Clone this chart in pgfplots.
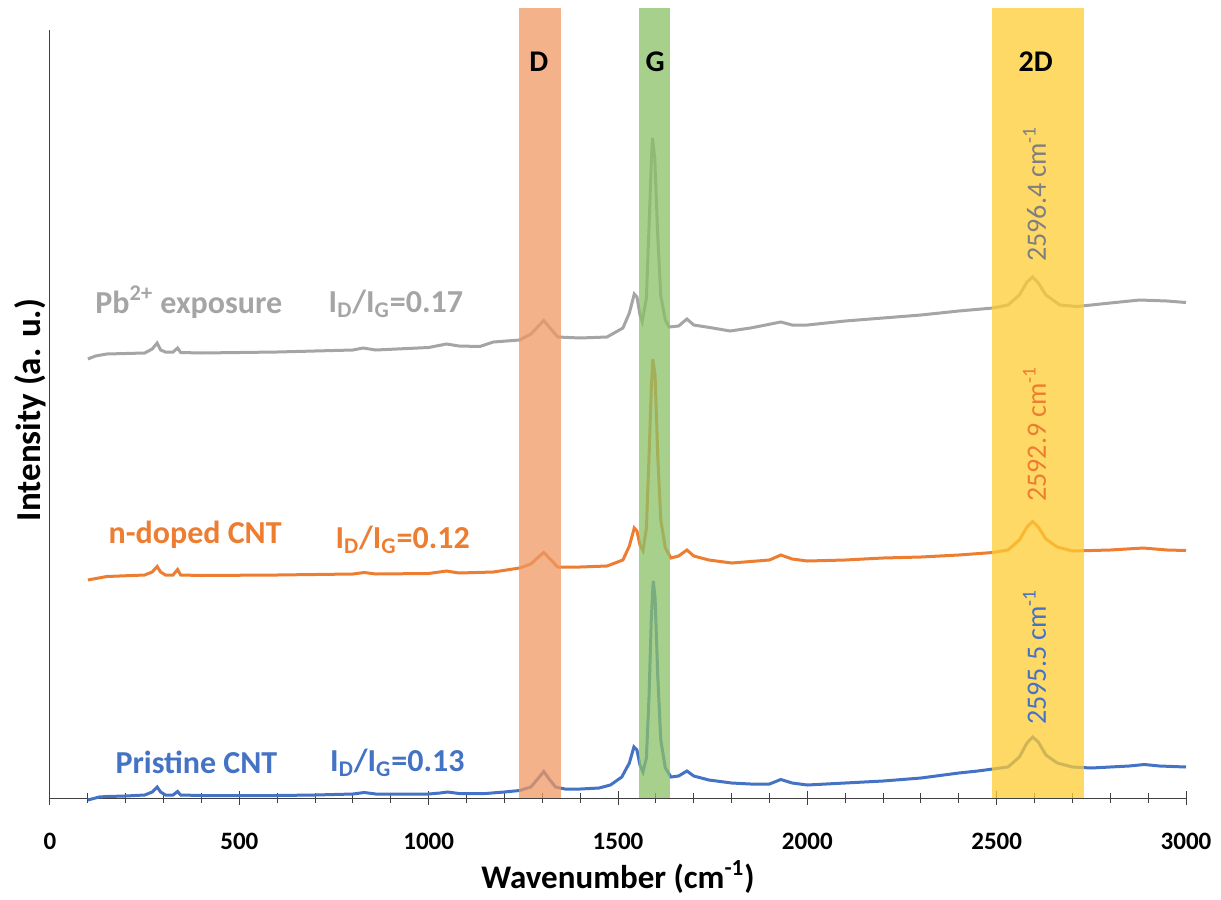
\documentclass[border=0pt]{standalone}
\usepackage{fontspec}
\setmainfont{Carlito}
\usepackage{pgfplots}
\pgfplotsset{compat=1.18}
\definecolor{cblue}{HTML}{4472C4}
\definecolor{corange}{HTML}{ED7D31}
\definecolor{cgray}{HTML}{A5A5A5}
\definecolor{cdgray}{HTML}{7F7F7F}
\definecolor{bandD}{RGB}{239,152,99}
\definecolor{bandG}{RGB}{139,192,103}
\definecolor{band2D}{RGB}{255,204,51}
\definecolor{axcol}{HTML}{404040}
\begin{document}
\begin{tikzpicture}
\begin{axis}[
  width=568pt, height=395pt, scale only axis,
  xmin=0, xmax=3000, ymin=0, ymax=790,
  clip=false,
  axis x line=bottom, axis y line=none,
  axis line style={-, axcol, line width=0.5pt},
  xtick={0,500,...,3000},
  minor xtick={100,200,300,400,600,700,800,900,1100,1200,1300,1400,1600,1700,1800,1900,2100,2200,2300,2400,2600,2700,2800,2900},
  tick align=center,
  major tick length=7pt, minor tick length=5pt,
  every tick/.style={axcol, line width=0.5pt},
  /pgf/number format/assume math mode=true,
  /pgf/number format/set thousands separator={},
  xticklabel style={font=\bfseries\fontsize{12.5}{15}\selectfont, anchor=center, yshift=-18pt},
  xlabel={\textbf{Wavenumber (cm\textsuperscript{-1})}},
  xlabel style={font=\fontsize{16.5}{19}\selectfont, at={(rel axis cs:0.5,0)}, anchor=center, yshift=-39.5pt},
]
% Pristine CNT (blue)
\addplot[cblue, line width=1.5pt] coordinates {
(100,-2)(130,1)(150,1.5)(200,2)(250,3)(270,6)(283,11)(292,6)(305,3)(325,3)(337,6.5)(345,3)
(400,2.5)(500,2.5)(600,2.5)(700,3)(800,4)(830,5.5)(860,4)(950,4)(1000,4)(1030,5)(1050,6)(1080,4.5)
(1150,4.5)(1200,6)(1240,7.5)(1270,11)(1290,20)(1304,26.5)(1318,19)(1335,11)(1360,9)(1400,9)(1450,10)
(1480,13)(1510,21)(1530,35)(1542,51)(1550,48)(1558,33)(1566,26)(1575,40)(1582,102)(1588,180)(1593,217)
(1598,200)(1605,122)(1613,58)(1625,30)(1640,21)(1660,22)(1682,27)(1700,22)(1740,18)(1800,15)(1850,14)
(1900,14)(1930,18.5)(1960,15)(2000,13)(2100,15)(2200,17)(2300,20)(2400,25)(2450,27)(2490,29)(2530,31)
(2560,41)(2580,55)(2595,61)(2610,56)(2630,43)(2660,35)(2700,31)(2750,30)(2800,31)(2850,32)(2890,33.5)
(2930,32)(3000,31)};
% n-doped CNT (orange)
\addplot[corange, line width=1.5pt] coordinates {
(100,218)(150,221.5)(250,223)(270,226)(283,231.5)(292,226)(305,223)(325,223)(337,228.5)(345,223)
(400,222.5)(600,223)(800,224)(830,225.5)(860,224)(1000,224.5)(1047,227)(1080,225)(1171,226)(1240,230)
(1270,234)(1290,241)(1304,245.5)(1318,240)(1341,231)(1400,231)(1471,232)(1513,238)(1530,252)(1543,270)
(1550,267)(1558,253)(1566,247.5)(1575,270)(1582,342)(1588,410)(1592,439)(1598,422)(1605,342)(1613,278)
(1625,250)(1640,240)(1660,242)(1682,248)(1700,242)(1740,238)(1800,235)(1900,238)(1930,243)(1960,239)
(2000,237)(2100,238)(2200,240)(2300,241)(2400,243)(2490,245.5)(2530,248)(2560,258)(2580,271)(2595,276.5)
(2610,271)(2630,259)(2660,251)(2700,247)(2800,248)(2887,250)(2950,248)(3000,247.5)};
% Pb2+ exposure (gray)
\addplot[cgray, line width=1.5pt] coordinates {
(100,439)(120,442)(150,444)(250,445)(270,449)(283,455)(292,448)(305,446)(325,446)(337,450)(345,445.5)
(400,445)(600,446)(800,448)(827,450)(860,448)(1000,450.5)(1047,454)(1080,452)(1135,451.5)(1171,456)
(1240,458)(1270,464)(1290,472)(1304,477.5)(1318,471)(1341,461)(1400,460)(1471,461)(1513,470)(1530,485)
(1543,504)(1550,501)(1558,483)(1564,476.5)(1575,500)(1582,572)(1588,636)(1591,660)(1597,640)(1605,562)
(1613,502)(1625,478)(1635,471)(1660,472)(1682,479)(1700,473)(1750,470)(1796,467)(1850,470)(1930,476)
(1960,473)(2000,473)(2100,477)(2200,480)(2300,483)(2400,487)(2490,490)(2530,493)(2560,503)(2580,516)
(2595,521)(2610,515)(2630,503)(2667,493)(2712,491.5)(2800,495)(2878,498)(2950,497)(3000,495.5)};
% bands
\addplot[draw=none, fill=bandD, fill opacity=0.75, forget plot] coordinates {(1239,0)(1239,790)(1349,790)(1349,0)};
\addplot[draw=none, fill=bandG, fill opacity=0.75, forget plot] coordinates {(1556,0)(1556,790)(1637,790)(1637,0)};
\addplot[draw=none, fill=band2D, fill opacity=0.75, forget plot] coordinates {(2488,0)(2488,790)(2731,790)(2731,0)};
% y axis line
\draw[axcol, line width=0.5pt] (axis cs:0,0) -- (axis cs:0,768);
% band labels
\node[font=\bfseries\fontsize{15}{18}\selectfont] at (axis cs:1291,736) {D};
\node[font=\bfseries\fontsize{15}{18}\selectfont] at (axis cs:1598,736) {G};
\node[font=\bfseries\fontsize{15}{18}\selectfont] at (axis cs:2603,736) {2D};
% series labels
\node[font=\bfseries\fontsize{16}{19}\selectfont, text=cgray, anchor=base west, inner sep=0pt] at (axis cs:119,485) {Pb\textsuperscript{2+} exposure};
\node[font=\bfseries\fontsize{16}{19}\selectfont, text=cgray, anchor=base west, inner sep=0pt] at (axis cs:735,486) {I\textsubscript{D}/I\textsubscript{G}=0.17};
\node[font=\bfseries\fontsize{16}{19}\selectfont, text=corange, anchor=base west, inner sep=0pt] at (axis cs:154,255) {n-doped CNT};
\node[font=\bfseries\fontsize{16}{19}\selectfont, text=corange, anchor=base west, inner sep=0pt] at (axis cs:753,250) {I\textsubscript{D}/I\textsubscript{G}=0.12};
\node[font=\bfseries\fontsize{16}{19}\selectfont, text=cblue, anchor=base west, inner sep=0pt] at (axis cs:172,25) {Pristine CNT};
\node[font=\bfseries\fontsize{16}{19}\selectfont, text=cblue, anchor=base west, inner sep=0pt] at (axis cs:739,27) {I\textsubscript{D}/I\textsubscript{G}=0.13};
% peak position labels
\node[font=\fontsize{14}{17}\selectfont, text=cdgray, rotate=90, anchor=west, inner sep=0pt] at (axis cs:2600,536) {2596.4 cm\textsuperscript{-1}};
\node[font=\fontsize{14}{17}\selectfont, text=corange, rotate=90, anchor=west, inner sep=0pt] at (axis cs:2600,296) {2592.9 cm\textsuperscript{-1}};
\node[font=\fontsize{14}{17}\selectfont, text=cblue, rotate=90, anchor=west, inner sep=0pt] at (axis cs:2600,73) {2595.5 cm\textsuperscript{-1}};
% y label
\node[font=\bfseries\fontsize{17.5}{20}\selectfont, rotate=90] at (axis cs:-53,388) {Intensity (a. u.)};
% bounding box
\path (rel axis cs:0,0) ++(-25pt,-49.5pt) coordinate (bbl);
\path (rel axis cs:1,1) ++(17.5pt,4pt) coordinate (bbr);
\path (bbl) rectangle (bbr);
\end{axis}
\end{tikzpicture}
\end{document}
